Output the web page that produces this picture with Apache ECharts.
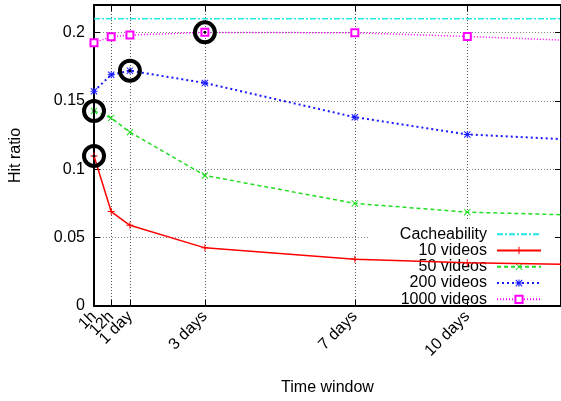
<!DOCTYPE html>
<html>
<head>
<meta charset="utf-8">
<script src="https://cdn.jsdelivr.net/npm/echarts@6/dist/echarts.min.js"></script>
<style>
  html, body { margin: 0; padding: 0; background: #fff; }
  #chart { width: 561px; height: 401px; }
</style>
</head>
<body>
<div id="chart"></div>
<script>
// time window in hours (last point lies past the right edge, the lines run on to it)
var hours = [1, 12, 24, 72, 168, 240, 336];
var cacheability = [0.21, 0.21, 0.21, 0.21, 0.21, 0.21, 0.21];
var videos10 = [0.1097, 0.069, 0.059, 0.0425, 0.0342, 0.0316, 0.030];
var videos50 = [0.1425, 0.1375, 0.127, 0.0954, 0.075, 0.0686, 0.0656];
var videos200 = [0.157, 0.169, 0.172, 0.163, 0.138, 0.1254, 0.120];
var videos1000 = [0.1925, 0.1968, 0.198, 0.200, 0.1997, 0.197, 0.1928];

var tickHours = [1, 12, 24, 72, 168, 240];
var tickLabels = ['1h', '12h', '1 day', '3 days', '7 days', '10 days'];
var yTicks = [0, 0.05, 0.1, 0.15, 0.2];

var FONT = 'Liberation Sans';

// gnuplot-like point shapes
var plusPath = 'path://M4.3,0h1.4v10h-1.4z M0,4.3h10v1.4h-10z';
var crossPath = 'path://M0,1 L1,0 L10,9 L9,10 Z M9,0 L10,1 L1,10 L0,9 Z';
var starPath = 'path://M4.3,0h1.4v10h-1.4z M0,4.3h10v1.4h-10z M0,1 L1,0 L10,9 L9,10 Z M9,0 L10,1 L1,10 L0,9 Z';

function pairs(vals) {
  return hours.map(function (h, i) { return [h, vals[i]]; });
}

function hourLabel(v) {
  var i = tickHours.indexOf(v);
  return i >= 0 ? tickLabels[i] : '';
}

// the rotated labels overlap, so every other one sits on its own (invisible) axis
var labelsA = tickHours.filter(function (h, i) { return i % 2 === 0; });
var labelsB = tickHours.filter(function (h, i) { return i % 2 === 1; });

function rotatedLabels(values) {
  return {
    customValues: values,
    showMinLabel: true,
    showMaxLabel: true,
    hideOverlap: false,
    rotate: 45,
    fontFamily: FONT,
    fontSize: 16,
    color: '#000',
    margin: 8,
    formatter: hourLabel
  };
}

// black ring around the best point of each curve
var bestMark = {
  silent: true,
  label: { show: false },
  data: [
    { type: 'max', symbol: 'circle', symbolSize: 20,
      itemStyle: { color: 'rgba(0,0,0,0)', borderColor: '#000', borderWidth: 4 } },
    { type: 'max', symbol: 'circle', symbolSize: 3, itemStyle: { color: '#000' } }
  ]
};

var axisBlack = { color: '#000', width: 2 };

var mychart = echarts.init(document.getElementById('chart'));

mychart.setOption({
  animation: false,
  backgroundColor: '#fff',
  textStyle: { fontFamily: FONT },
  grid: { left: 93, top: 5, right: -2, bottom: 88 },
  legend: {
    orient: 'vertical',
    align: 'right',
    right: 6,
    top: 220,
    z: 1,
    padding: [6, 13, 1, 31],
    backgroundColor: '#fff',
    itemWidth: 44,
    itemHeight: 9,
    itemGap: 0,
    textStyle: { fontFamily: FONT, fontSize: 16, color: '#000', lineHeight: 16.3, padding: [0, 5, 0, 0] },
    data: [
      { name: 'Cacheability', itemStyle: { opacity: 0 } },
      '10 videos', '50 videos', '200 videos', '1000 videos'
    ]
  },
  xAxis: [
    {
      // bottom axis: line, ticks, labels (drawn above the legend box)
      type: 'value',
      position: 'bottom',
      min: 1,
      max: 300,
      z: 3,
      name: 'Time window',
      nameLocation: 'middle',
      nameGap: 74,
      nameTextStyle: { fontFamily: FONT, fontSize: 16, color: '#000' },
      axisLine: { onZero: false, lineStyle: axisBlack },
      axisTick: { inside: true, length: 6, customValues: tickHours, lineStyle: { color: '#000', width: 1 } },
      axisLabel: rotatedLabels(labelsA),
      splitLine: { show: false }
    },
    {
      // top border: mirror ticks + vertical grid lines (under the legend box)
      type: 'value',
      position: 'top',
      min: 1,
      max: 300,
      z: 0,
      axisLine: { onZero: false, lineStyle: axisBlack },
      axisTick: { inside: true, length: 6, customValues: tickHours, lineStyle: { color: '#000' } },
      axisLabel: { show: false },
      splitLine: { show: true, lineStyle: { color: '#555', type: [1, 2], width: 1 } }
    },
    {
      // second set of bottom labels
      type: 'value',
      position: 'bottom',
      offset: 0,
      min: 1,
      max: 300,
      z: 3,
      axisLine: { show: false },
      axisTick: { show: false },
      axisLabel: rotatedLabels(labelsB),
      splitLine: { show: false }
    }
  ],
  yAxis: [
    {
      type: 'value',
      min: 0,
      max: 0.22,
      z: 3,
      name: 'Hit ratio',
      nameLocation: 'middle',
      nameGap: 70,
      nameTextStyle: { fontFamily: FONT, fontSize: 16, color: '#000' },
      axisLine: { onZero: false, lineStyle: axisBlack },
      axisTick: { inside: true, length: 6, customValues: yTicks, lineStyle: { color: '#000' } },
      axisLabel: { customValues: yTicks, fontFamily: FONT, fontSize: 16, color: '#000', margin: 9 },
      splitLine: { show: false }
    },
    {
      type: 'value',
      position: 'right',
      min: 0,
      max: 0.22,
      z: 0,
      axisLine: { onZero: false, lineStyle: axisBlack },
      axisTick: { inside: true, length: 6, customValues: yTicks, lineStyle: { color: '#000' } },
      axisLabel: { show: false },
      splitLine: { show: true, lineStyle: { color: '#888', type: [1, 2], width: 1 } }
    }
  ],
  series: [
    {
      name: 'Cacheability',
      type: 'line',
      symbol: 'none',
      color: '#22e5e5',
      lineStyle: { color: '#22e5e5', width: 1.5, type: [6, 2, 2, 2] },
      data: pairs(cacheability)
    },
    {
      name: '10 videos',
      type: 'line',
      symbol: plusPath,
      symbolSize: 7,
      color: '#ff0000',
      itemStyle: { color: '#ff0000' },
      lineStyle: { color: '#ff0000', width: 1.5 },
      data: pairs(videos10),
      markPoint: bestMark
    },
    {
      name: '50 videos',
      type: 'line',
      symbol: crossPath,
      symbolSize: 7,
      color: '#22dd22',
      itemStyle: { color: '#22dd22' },
      lineStyle: { color: '#22dd22', width: 1.5, type: [4, 3] },
      data: pairs(videos50),
      markPoint: bestMark
    },
    {
      name: '200 videos',
      type: 'line',
      symbol: starPath,
      symbolSize: 7,
      color: '#1a1aff',
      itemStyle: { color: '#1a1aff' },
      lineStyle: { color: '#1a1aff', width: 2, type: [2, 3] },
      data: pairs(videos200),
      markPoint: bestMark
    },
    {
      name: '1000 videos',
      type: 'line',
      symbol: 'emptyRect',
      symbolSize: 7,
      color: '#ff00ff',
      itemStyle: { color: '#ff00ff', borderWidth: 1.5 },
      lineStyle: { color: '#ff00ff', width: 1.5, type: [1, 2] },
      data: pairs(videos1000),
      markPoint: bestMark
    }
  ]
});

window.addEventListener('resize', function () {
  mychart.resize();
});
</script>
</body>
</html>
